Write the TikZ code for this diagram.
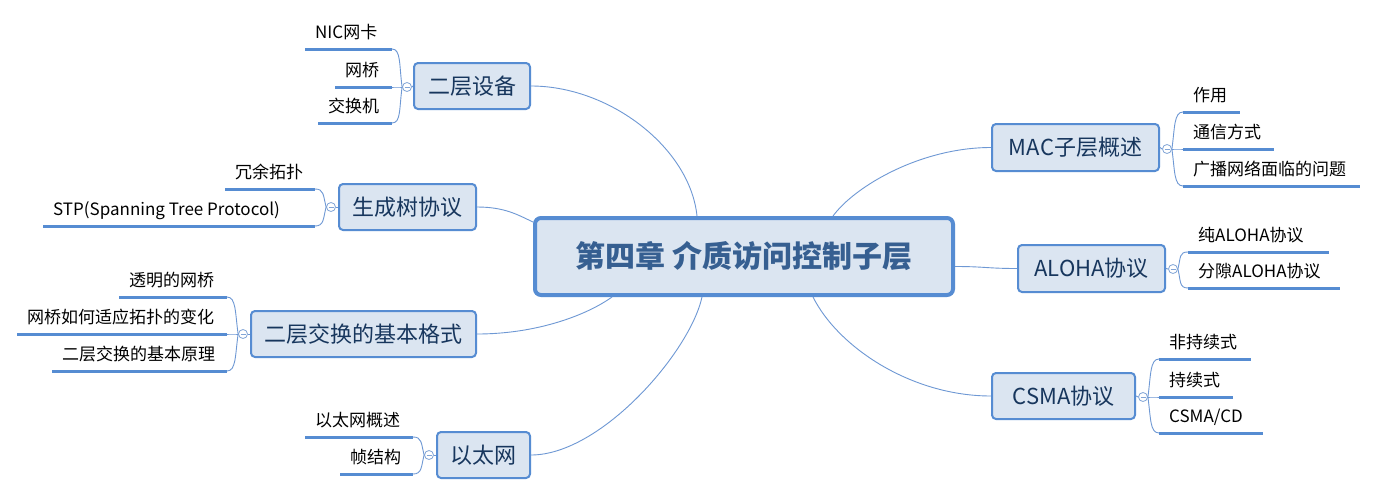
\documentclass[tikz,border=0pt]{standalone}
\usepackage{fontspec}
\setmainfont{Noto Sans CJK SC}
\definecolor{bord}{RGB}{86,140,210}
\definecolor{topicfill}{RGB}{219,229,241}
\definecolor{navy}{RGB}{23,54,93}
\definecolor{titlecol}{RGB}{54,95,145}
\definecolor{linkcol}{RGB}{110,152,212}
\definecolor{foldcol}{RGB}{130,165,215}
\newcommand\kidleft[7]{%
  \coordinate (#1s) at (#2,#4);
  \coordinate (#1e) at (#3,#4);
  \node[kid, xshift=10pt, yshift=11pt] (#1) at (#1s) {#5};
  \draw[uline] (#1s) -- (#1e);
  \draw[bracket] (#1e) .. controls +(9,0) and +(-3,#7) .. (#6.west);
}
\newcommand\kidright[7]{%
  \coordinate (#1s) at (#2,#4);
  \coordinate (#1e) at (#3,#4);
  \node[kid, xshift=10pt, yshift=11pt] (#1) at (#1s) {#5};
  \draw[uline] (#1s) -- (#1e);
  \draw[bracket] (#1s) .. controls +(-9,0) and +(3,#7) .. (#6.east);
}
\begin{document}
\begin{tikzpicture}[x=1pt,y=-1pt,
  topic/.style={draw=bord, fill=topicfill, line width=2pt, rounded corners=4pt, text=navy, font=\fontsize{22}{26}\selectfont, inner sep=0pt, minimum height=46pt},
  centraltopic/.style={draw=bord, fill=topicfill, line width=4pt, rounded corners=6pt, text=titlecol, font=\fontsize{30}{34}\selectfont\bfseries, minimum width=418pt, minimum height=77pt, inner sep=0pt},
  kid/.style={anchor=base west, inner sep=0pt, font=\fontsize{17}{20}\selectfont, text=black},
  fold/.style={circle, draw=foldcol, fill=white, line width=0.8pt, minimum size=9pt, inner sep=0pt,
    path picture={\draw[foldcol, line width=0.8pt] ([xshift=-2.5pt]path picture bounding box.center) -- ([xshift=2.5pt]path picture bounding box.center);}},
  uline/.style={draw=bord, line width=3pt},
  link/.style={draw=linkcol, line width=0.9pt},
  bracket/.style={draw=linkcol, line width=0.9pt},
]
\fill[white] (0,0) rectangle (1377,496);
\useasboundingbox (0,0) rectangle (1377,496);

% central topic
\node[centraltopic] (ct) at (744,256.5) {第四章 介质访问控制子层};

% main topics
\node[topic, minimum width=116pt] (t1) at (472,86) {二层设备};
\node[topic, minimum width=137pt] (t2) at (407.5,207) {生成树协议};
\node[topic, minimum width=225pt] (t3) at (363.5,334) {二层交换的基本格式};
\node[topic, minimum width=93pt]  (t4) at (483.5,455) {以太网};
\node[topic, minimum width=167pt, minimum height=47pt] (t5) at (1075.5,147.5) {MAC子层概述};
\node[topic, minimum width=147pt, minimum height=47pt] (t6) at (1091.5,268.5) {ALOHA协议};
\node[topic, minimum width=143pt] (t7) at (1063.5,396) {CSMA协议};

% fold markers
\node[fold] (f1) at (407,87) {};
\node[fold] (f2) at (331,207) {};
\node[fold] (f3) at (243,334) {};
\node[fold] (f4) at (429,455) {};
\node[fold] (f5) at (1167,149) {};
\node[fold] (f6) at (1173,269) {};
\node[fold] (f7) at (1143,397) {};

\draw[link] (f1.east) -- (t1.west);
\draw[link] (f2.east) -- (t2.west);
\draw[link] (f3.east) -- (t3.west);
\draw[link] (f4.east) -- (t4.west);
\draw[link] (t5.east) -- (f5.west);
\draw[link] (t6.east) -- (f6.west);
\draw[link] (t7.east) -- (f7.west);

% connectors from central topic
\draw[link] (t1.east) .. controls +(79,0) and +(-7,-68) .. ([xshift=164pt]ct.north west);
\draw[link] (t2.east) .. controls +(28,0) and +(-15,-7) .. ([yshift=-6pt]ct.north west);
\draw[link] (t3.east) .. controls +(60,0) and +(-25,18) .. ([xshift=79pt]ct.south west);
\draw[link] (t4.east) .. controls +(70,0) and +(-12,55) .. ([xshift=169pt]ct.south west);
\draw[link] ([xshift=300pt]ct.north west) .. controls +(22,-30) and +(-70,0) .. (t5.west);
\draw[link] ([yshift=-10pt]ct.east) .. controls +(30,0) and +(-30,0) .. (t6.west);
\draw[link] ([xshift=280pt]ct.south west) .. controls +(25,50) and +(-80,0) .. (t7.west);

% children: left side
\kidleft{k1a}{305}{392}{49}{NIC网卡}{f1}{-22}
\kidleft{k1b}{335}{392}{87}{网桥}{f1}{0}
\kidleft{k1c}{318}{392}{123}{交换机}{f1}{22}

\kidleft{k2a}{225}{315}{189}{冗余拓扑}{f2}{-12}
\kidleft{k2b}{43}{315}{226}{STP(Spanning Tree Protocol)}{f2}{12}

\kidleft{k3a}{119}{227}{297}{透明的网桥}{f3}{-22}
\kidleft{k3b}{17}{227}{334}{网桥如何适应拓扑的变化}{f3}{0}
\kidleft{k3c}{52}{227}{371}{二层交换的基本原理}{f3}{22}

\kidleft{k4a}{305}{413}{437}{以太网概述}{f4}{-12}
\kidleft{k4b}{340}{413}{474}{帧结构}{f4}{12}

% children: right side
\kidright{k5a}{1183}{1240}{112}{作用}{f5}{-22}
\kidright{k5b}{1183}{1274}{149}{通信方式}{f5}{0}
\kidright{k5c}{1183}{1360}{186}{广播网络面临的问题}{f5}{22}

\kidright{k6a}{1188}{1329}{252}{纯ALOHA协议}{f6}{-12}
\kidright{k6b}{1188}{1340}{288}{分隙ALOHA协议}{f6}{12}

\kidright{k7a}{1159}{1251}{359}{非持续式}{f7}{-22}
\kidright{k7b}{1159}{1233}{397}{持续式}{f7}{0}
\kidright{k7c}{1159}{1263}{433}{CSMA/CD}{f7}{22}
\end{tikzpicture}
\end{document}
